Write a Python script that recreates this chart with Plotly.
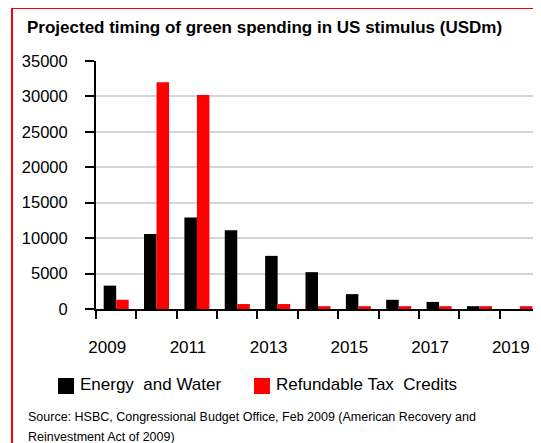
import plotly.graph_objects as go

years = [2009, 2010, 2011, 2012, 2013, 2014, 2015, 2016, 2017, 2018, 2019]
energy_water = [3300, 10600, 12900, 11100, 7500, 5200, 2100, 1300, 1000, 400, 0]
tax_credits = [1300, 32000, 30200, 700, 700, 400, 400, 400, 400, 400, 400]
x_tick_labels = ["2009", "2011", "2013", "2015", "2017", "2019"]
y_tick_vals = [0, 5000, 10000, 15000, 20000, 25000, 30000, 35000]
series_names = ["Energy  and Water", "Refundable Tax  Credits"]
series_colors = ["#000000", "#ff0000"]

OFF = 8  # page body margin
W, H = 541 - OFF, 443 - OFF
L, R, T, B = 96 - OFF, 1, 61 - OFF, 134
pw, ph = W - L - R, H - T - B

def px_x(p):  # page pixel -> paper
    return (p - OFF - L) / pw

def px_y(p):
    return (H - B - (p - OFF)) / ph

font = "Liberation Sans, Arial, sans-serif"

fig = go.Figure()
fig.add_trace(go.Bar(x=years, y=energy_water, name=series_names[0],
                     marker=dict(color=series_colors[0], line=dict(width=0))))
fig.add_trace(go.Bar(x=years, y=tax_credits, name=series_names[1],
                     marker=dict(color=series_colors[1], line=dict(width=0))))

annotations = [
    dict(text="Source: HSBC, Congressional Budget Office, Feb 2009 (American Recovery and",
         xref="paper", yref="paper", x=px_x(26), y=px_y(417),
         xanchor="left", yanchor="middle", align="left", showarrow=False,
         font=dict(family=font, size=12.5, color="#000")),
    dict(text="Reinvestment Act of 2009)",
         xref="paper", yref="paper", x=px_x(26), y=px_y(437),
         xanchor="left", yanchor="middle", align="left", showarrow=False,
         font=dict(family=font, size=12.5, color="#000")),
]
shapes = [
    dict(type="line", xref="paper", yref="paper",
         x0=px_x(12), x1=px_x(12), y0=px_y(460), y1=px_y(7),
         line=dict(color="#ff0000", width=2), layer="below"),
    dict(type="line", xref="paper", yref="paper",
         x0=px_x(11), x1=px_x(560), y0=px_y(8), y1=px_y(8),
         line=dict(color="#ff0000", width=2), layer="below"),
]
legend_x = [58, 254]
for name, color, lx in zip(series_names, series_colors, legend_x):
    shapes.append(dict(type="rect", xref="paper", yref="paper",
                       x0=px_x(lx), x1=px_x(lx + 16), y0=px_y(394), y1=px_y(378),
                       line=dict(width=0), fillcolor=color))
    annotations.append(dict(text=name, xref="paper", yref="paper",
                            x=px_x(lx + 20), y=px_y(384), xanchor="left",
                            yanchor="middle", showarrow=False,
                            font=dict(family=font, size=17, color="#000")))

fig.update_layout(
    width=W, height=H,
    margin=dict(l=L, r=R, t=T, b=B, pad=0),
    paper_bgcolor="white", plot_bgcolor="white",
    barmode="group", bargap=0.38, bargroupgap=0,
    font=dict(family=font, size=17, color="#000"),
    title=dict(text="<b>Projected timing of green spending in US stimulus (USDm)</b>",
               x=(27 - OFF) / W, xanchor="left", xref="container",
               y=1 - (27 - OFF) / H, yanchor="middle", yref="container",
               font=dict(family=font, size=17, color="#000")),
    xaxis=dict(
        range=[2008.5, 2019.5], tickmode="array",
        tickvals=[int(t) for t in x_tick_labels], ticktext=x_tick_labels,
        ticks="", showgrid=False, zeroline=False,
        showline=True, linecolor="#000", linewidth=2,
        ticklabelstandoff=22, ticklabelshift=-9,
        tickfont=dict(size=17),
        minor=dict(tickmode="array",
                   tickvals=[y - 0.5 for y in years] + [years[-1] + 0.5],
                   ticks="outside", ticklen=8, tickcolor="#000", tickwidth=2,
                   showgrid=False),
    ),
    yaxis=dict(
        range=[0, 35000], tickmode="array", tickvals=y_tick_vals,
        ticktext=[str(v) for v in y_tick_vals],
        ticks="outside", ticklen=9, tickcolor="#000", tickwidth=2,
        showline=True, linecolor="#000", linewidth=2,
        showgrid=True, gridcolor="#d6d6d6", gridwidth=2,
        zeroline=False, ticklabelstandoff=14,
        tickfont=dict(size=16.5),
    ),
    showlegend=False,
    annotations=annotations,
    shapes=shapes,
)

fig.write_html("out.html")
